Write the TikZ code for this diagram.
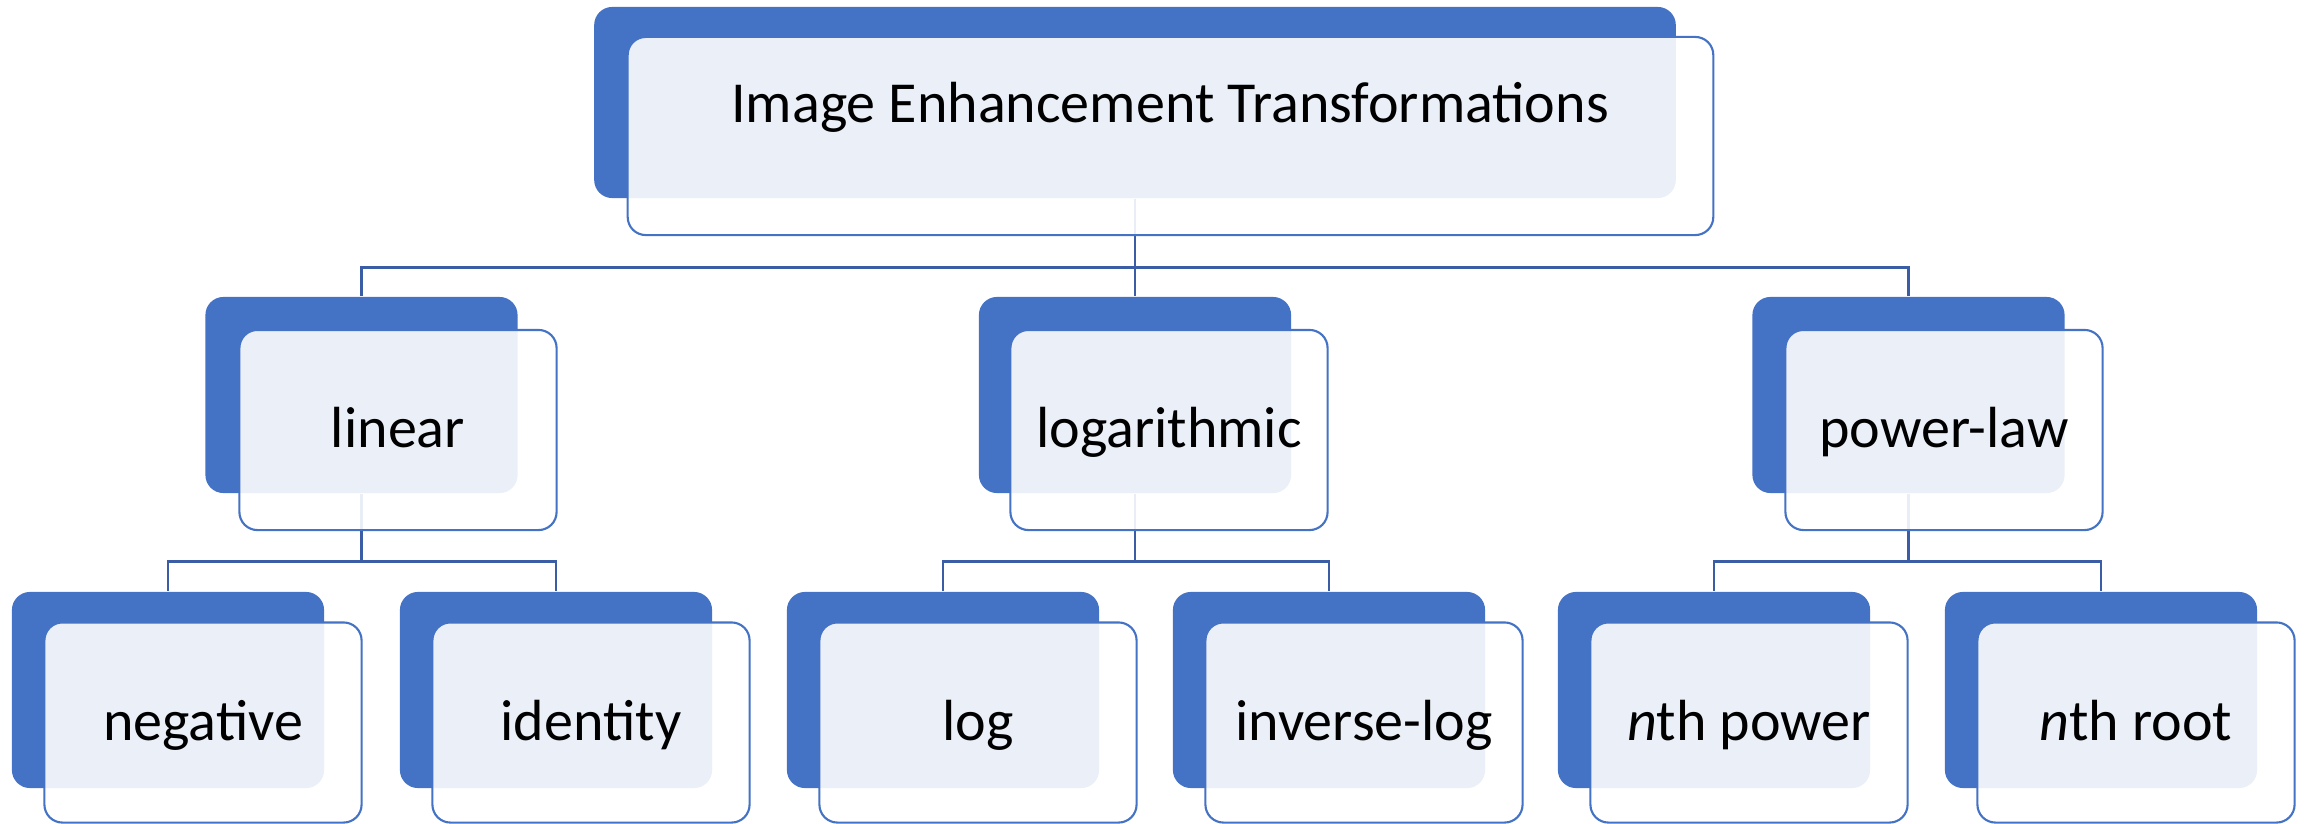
\documentclass[tikz,border=0pt]{standalone}
\usepackage{fontspec}
\setmainfont{Carlito}
\usetikzlibrary{backgrounds,positioning}
\definecolor{boxblue}{HTML}{4472C4}
\definecolor{connblue}{HTML}{3A5DA6}

\begin{document}
\begin{tikzpicture}
[x=0.01cm, y=-0.01cm,
backnode/.style={rectangle, rounded corners=0.18cm, fill=boxblue, inner sep=0, minimum width=3.12cm, minimum height=1.96cm},
frontnode/.style={rectangle, rounded corners=0.18cm, draw=boxblue, line width=0.6pt, fill=white, fill opacity=0.89, inner sep=0, minimum width=3.17cm, minimum height=2cm},
txtnode/.style={anchor=base, inner sep=0, font=\fontsize{16.5}{19}\selectfont},
conn/.style={draw=connblue, line width=0.75pt},
]
\useasboundingbox (0,0) rectangle (2305,824);
%level 1
\node[backnode, minimum width=10.81cm, minimum height=1.91cm](topb) at (1135,102.5){};
%level 2
\node[backnode](linb) at (361.5,395){};
\node[backnode](logb) at (1135,395){};
\node[backnode](powb) at (1908.5,395){};
%level 3
\node[backnode](negb) at (168,690){};
\node[backnode](idb) at (556,690){};
\node[backnode](lgb) at (943,690){};
\node[backnode](ilgb) at (1329,690){};
\node[backnode](npb) at (1714,690){};
\node[backnode](nrb) at (2101,690){};
%draw line
\begin{scope}[on background layer]
\draw[conn] (topb.south) -- ++(0,69) -| (linb.north);
\draw[conn] (topb.south) -- ++(0,69) -| (powb.north);
\draw[conn] (topb.south) -- (logb.north);
\draw[conn] (linb.south) -- ++(0,68) -| (negb.north);
\draw[conn] (linb.south) -- ++(0,68) -| (idb.north);
\draw[conn] (logb.south) -- ++(0,68) -| (lgb.north);
\draw[conn] (logb.south) -- ++(0,68) -| (ilgb.north);
\draw[conn] (powb.south) -- ++(0,68) -| (npb.north);
\draw[conn] (powb.south) -- ++(0,68) -| (nrb.north);
\end{scope}
%front boxes
\node[frontnode, minimum width=10.85cm, minimum height=1.98cm](topf) at (1170.5,136){};
\node[frontnode](linf) at (398,430){};
\node[frontnode](logf) at (1169,430){};
\node[frontnode](powf) at (1944,430){};
\node[frontnode](negf) at (203,722.5){};
\node[frontnode](idf) at (591,722.5){};
\node[frontnode](lgf) at (978,722.5){};
\node[frontnode](ilgf) at (1364,722.5){};
\node[frontnode](npf) at (1749,722.5){};
\node[frontnode](nrf) at (2136,722.5){};
%labels
\node[txtnode](topt) at (1170,122){Image Enhancement Transformations};
\node[txtnode](lint) at (398,447){linear};
\node[txtnode](logt) at (1169,447){logarithmic};
\node[txtnode](powt) at (1944,447){power-law};
\node[txtnode](negt) at (203,740){negative};
\node[txtnode](idt) at (591,740){identity};
\node[txtnode](lgt) at (978,740){log};
\node[txtnode](ilgt) at (1364,740){inverse-log};
\node[txtnode](npt) at (1749,740){\textit{n}th power};
\node[txtnode](nrt) at (2136,740){\textit{n}th root};
\end{tikzpicture}
\end{document}
